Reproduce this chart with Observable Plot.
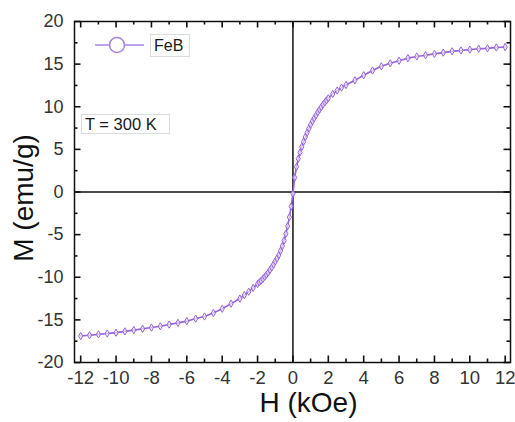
<!DOCTYPE html>
<html>
<head>
<meta charset="utf-8">
<script src="https://cdn.jsdelivr.net/npm/d3@7"></script>
<script src="https://cdn.jsdelivr.net/npm/@observablehq/plot@0.6"></script>
<style>
  html, body { margin: 0; padding: 0; background: #fff; }
  #wrap { position: relative; width: 515px; height: 422px; font-family: "Liberation Sans", Arial, sans-serif; }
  #wrap svg { display: block; }
  .box { position: absolute; background: #fff; border: 1px solid #dcdcdc; color: #1a1a1a; white-space: nowrap; }
</style>
</head>
<body>
<div id="wrap"></div>
<script>
// ---- data ----
const fieldH = [-12, -11.5, -11, -10.5, -10, -9.5, -9, -8.5, -8, -7.5, -7, -6.5, -6, -5.5, -5, -4.5, -4, -3.5, -3, -2.75, -2.5, -2.25,
  -2.0, -1.9, -1.8, -1.7, -1.6, -1.5, -1.4, -1.3, -1.2, -1.1, -1.0, -0.9, -0.8, -0.7, -0.6, -0.5, -0.4, -0.3, -0.2, -0.1,
  0.0, 0.1, 0.2, 0.3, 0.4, 0.5, 0.6, 0.7, 0.8, 0.9, 1.0, 1.1, 1.2, 1.3, 1.4, 1.5, 1.6, 1.7, 1.8, 1.9, 2.0,
  2.25, 2.5, 2.75, 3, 3.5, 4, 4.5, 5, 5.5, 6, 6.5, 7, 7.5, 8, 8.5, 9, 9.5, 10, 10.5, 11, 11.5, 12];
const magM = [-16.9, -16.8, -16.7, -16.6, -16.5, -16.35, -16.2, -16.05, -15.9, -15.75, -15.55, -15.35, -15.15, -14.85, -14.6, -14.2, -13.7, -13.1, -12.5, -12.1, -11.7, -11.25,
  -10.8, -10.6, -10.4, -10.2, -9.95, -9.7, -9.45, -9.15, -8.85, -8.5, -8.15, -7.8, -7.4, -6.9, -6.35, -5.7, -4.9, -4.0, -2.95, -1.7,
  -0.2, 1.7, 2.95, 3.9, 4.65, 5.3, 5.9, 6.45, 6.95, 7.45, 7.9, 8.3, 8.65, 9.0, 9.35, 9.65, 9.95, 10.25, 10.5, 10.75, 11.0,
  11.5, 11.9, 12.25, 12.55, 13.1, 13.7, 14.25, 14.75, 15.1, 15.4, 15.7, 15.9, 16.05, 16.2, 16.35, 16.5, 16.6, 16.7, 16.8, 16.85, 16.95, 17.0];
const xMajor = [-12, -10, -8, -6, -4, -2, 0, 2, 4, 6, 8, 10, 12];
const xMinor = [-11, -9, -7, -5, -3, -1, 1, 3, 5, 7, 9, 11];
const yMajor = [-20, -15, -10, -5, 0, 5, 10, 15, 20];
const yMinor = [-17.5, -12.5, -7.5, -2.5, 2.5, 7.5, 12.5, 17.5];
const seriesName = "FeB";
const note = "T = 300 K";
const xTitle = "H (kOe)";
const yTitle = "M (emu/g)";

const data = fieldH.map((h, i) => ({H: h, M: magM[i]}));
const purple = "#9562da";

const W = 515, Hh = 422, mT = 21, mB = 60, mL = 74, mR = 5;
const fw = W - mL - mR, fh = Hh - mT - mB;
const majorLen = 6.5, minorLen = 3.5;
const tickStyle = {stroke: "#111", strokeWidth: 1.6};

const chart = Plot.plot({
  width: W,
  height: Hh,
  marginTop: mT,
  marginBottom: mB,
  marginLeft: mL,
  marginRight: mR,
  style: {fontFamily: "'Liberation Sans', Arial, sans-serif", background: "#fff"},
  x: {domain: [-12.35, 12.3]},
  y: {domain: [-20, 20]},
  marks: [
    Plot.ruleY([0], {stroke: "#111", strokeWidth: 1.5}),
    Plot.ruleX([0], {stroke: "#111", strokeWidth: 1.5}),
    Plot.axisX({anchor: "bottom", ticks: xMajor, tickSize: 0, tickPadding: 8, tickFormat: d => String(d), fontSize: 18.5, fill: "#333", label: null}),
    Plot.axisY({anchor: "left", ticks: yMajor, tickSize: 0, tickPadding: 11, tickFormat: d => String(d), fontSize: 18, fill: "#333", label: null}),
    // inward ticks on all four sides
    Plot.tickX(xMajor, {x: d => d, insetTop: fh - majorLen, ...tickStyle}),
    Plot.tickX(xMinor, {x: d => d, insetTop: fh - minorLen, ...tickStyle}),
    Plot.tickX(xMajor, {x: d => d, insetBottom: fh - majorLen, ...tickStyle}),
    Plot.tickX(xMinor, {x: d => d, insetBottom: fh - minorLen, ...tickStyle}),
    Plot.tickY(yMajor, {y: d => d, insetRight: fw - majorLen, ...tickStyle}),
    Plot.tickY(yMinor, {y: d => d, insetRight: fw - minorLen, ...tickStyle}),
    Plot.tickY(yMajor, {y: d => d, insetLeft: fw - majorLen, ...tickStyle}),
    Plot.tickY(yMinor, {y: d => d, insetLeft: fw - minorLen, ...tickStyle}),
    Plot.frame({stroke: "#111", strokeWidth: 1.5}),
    Plot.line(data, {x: "H", y: "M", stroke: purple, strokeWidth: 1.6}),
    Plot.dot(data, {x: "H", y: "M", symbol: "diamond", r: 2.2, stroke: purple, strokeWidth: 1, fill: "white", fillOpacity: 0.6}),
    Plot.text([xTitle], {frameAnchor: "bottom", dx: 16, dy: 49, fontSize: 28, fill: "#111", textAnchor: "middle"}),
    Plot.text([yTitle], {frameAnchor: "left", dx: -50, dy: 6, rotate: -90, fontSize: 28, fill: "#111", textAnchor: "middle"})
  ]
});

const wrap = document.getElementById("wrap");
wrap.appendChild(chart);

const legend = document.createElement("div");
legend.style.cssText = "position:absolute;left:94px;top:34px;height:22px;display:flex;align-items:center;";
legend.innerHTML = `<svg width="52" height="20" style="display:block"><line x1="1" y1="10" x2="50" y2="10" stroke="#a985e0" stroke-width="1.5"/><circle cx="23" cy="10" r="7.5" fill="#fff" stroke="#a985e0" stroke-width="1.6"/></svg>` +
  `<span class="box" style="position:relative;left:4px;font-size:16px;padding:1px 6px 1px 3px;line-height:19px;">${seriesName}</span>`;
wrap.appendChild(legend);

const tbox = document.createElement("div");
tbox.className = "box";
tbox.style.cssText += "left:81px;top:114px;font-size:16.5px;line-height:18px;padding:0 12px 0 3px;";
tbox.textContent = note;
wrap.appendChild(tbox);
</script>
</body>
</html>
